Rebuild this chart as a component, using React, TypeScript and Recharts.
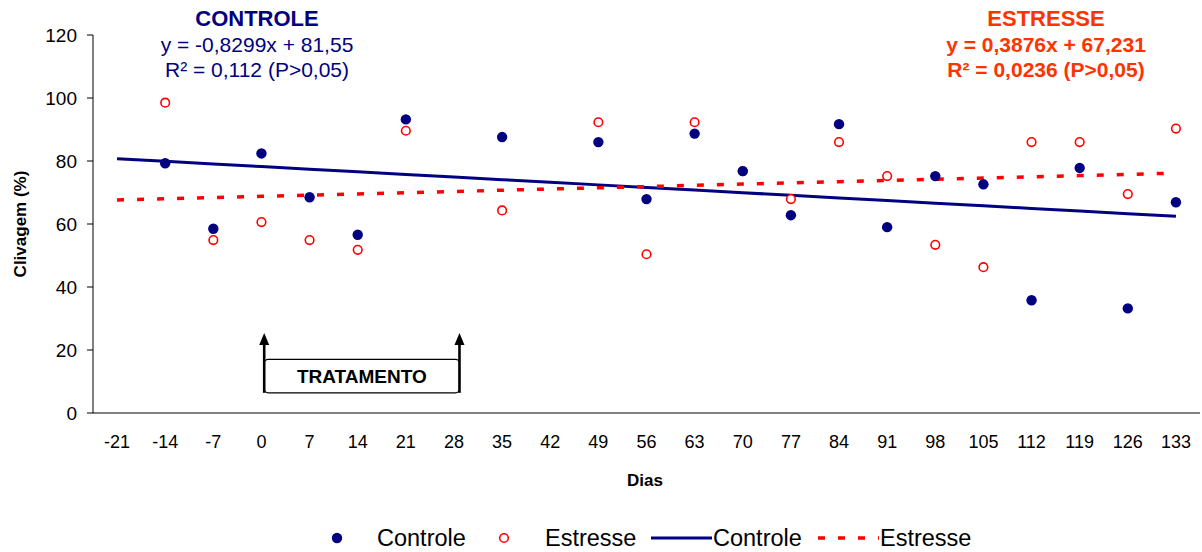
import React from 'react';
import {
  ComposedChart,
  XAxis,
  YAxis,
  Scatter,
  Line,
  ReferenceArea,
  ReferenceLine,
  Label,
} from 'recharts';

// ---------- data ----------
const dias = [-21, -14, -7, 0, 7, 14, 21, 28, 35, 42, 49, 56, 63, 70, 77, 84, 91, 98, 105, 112, 119, 126, 133];
const controle = [null, 79.3, 58.5, 82.4, 68.5, 56.6, 93.2, null, 87.6, null, 86.0, 67.9, 88.7, 76.8, 62.8, 91.7, 59.0, 75.2, 72.6, 35.8, 77.8, 33.2, 66.9];
const estresse = [null, 98.5, 54.9, 60.6, 54.9, 51.8, 89.6, null, 64.3, null, 92.3, 50.4, 92.3, 76.8, 67.9, 86.0, 75.2, 53.4, 46.3, 86.0, 86.0, 69.5, 90.3];
const tendenciaControle = [80.72, 79.89, 79.06, 78.23, 77.4, 76.57, 75.74, 74.91, 74.08, 73.25, 72.42, 71.59, 70.76, 69.93, 69.1, 68.27, 67.44, 66.61, 65.78, 64.95, 64.12, 63.29, 62.46];
const tendenciaEstresse = [67.62, 68.01, 68.39, 68.78, 69.17, 69.56, 69.94, 70.33, 70.72, 71.11, 71.5, 71.88, 72.27, 72.66, 73.05, 73.43, 73.82, 74.21, 74.6, 74.98, 75.37, 75.76, 76.15];
const yTicks = [0, 20, 40, 60, 80, 100, 120];
const tratamentoInicio = 0.4;
const tratamentoFim = 28.8;

// ---------- derived tables ----------
const rows = dias.map((d, i) => ({ dia: d, tc: tendenciaControle[i], te: tendenciaEstresse[i] }));
const ptsControle = dias.map((d, i) => ({ dia: d, v: controle[i] })).filter((p) => p.v != null);
const ptsEstresse = dias.map((d, i) => ({ dia: d, v: estresse[i] })).filter((p) => p.v != null);
const halfStep = (dias[1] - dias[0]) / 2;
const boundaries = [...dias.map((d) => d - halfStep), dias[dias.length - 1] + halfStep];
const xDomain = [boundaries[0], boundaries[boundaries.length - 1]];

const NAVY = '#000080';
const RED = '#FF0000';
const ORANGE = '#FF3300';
const FONT = '"Liberation Sans", Arial, sans-serif';

const FilledDot = (p: any) => <circle cx={p.cx} cy={p.cy} r={5.2} fill={NAVY} />;
const OpenDot = (p: any) => (
  <circle cx={p.cx} cy={p.cy} r={4.3} fill="#fff" stroke={RED} strokeWidth={1.6} />
);

const Arrow = (p: any) => {
  const x = p.x1;
  const top = Math.min(p.y1, p.y2);
  const bottom = Math.max(p.y1, p.y2);
  return (
    <g>
      <line x1={x} y1={bottom} x2={x} y2={top + 10} stroke="#000" strokeWidth={2.6} />
      <polygon points={`${x - 5},${top + 12} ${x + 5},${top + 12} ${x},${top}`} fill="#000" />
    </g>
  );
};

const Box = (p: any) => (
  <rect x={p.x} y={p.y} width={p.width} height={p.height} rx={4} ry={4} fill="#fff" stroke="#000" strokeWidth={1.2} />
);

export default function App() {
  return (
    <div style={{ position: 'absolute', left: 0, top: 0, width: 1202, height: 552, background: '#fff', fontFamily: FONT }}>
      <ComposedChart
        width={1202}
        height={552}
        data={rows}
        margin={{ top: 35, right: 2, left: 0, bottom: 108 }}
      >
        <XAxis
          xAxisId="a"
          type="number"
          dataKey="dia"
          domain={xDomain}
          ticks={boundaries}
          interval={0}
          tick={false}
          tickSize={6}
          tickLine={{ stroke: '#000', strokeWidth: 1 }}
          axisLine={{ stroke: '#808080', strokeWidth: 2 }}
          height={1}
          allowDataOverflow
        />
        <XAxis
          xAxisId="b"
          type="number"
          dataKey="dia"
          domain={xDomain}
          ticks={dias}
          interval={0}
          tickLine={false}
          axisLine={false}
          tickSize={6}
          tickMargin={15}
          tick={{ fontSize: 18, fill: '#000', fontFamily: FONT }}
          height={30}
          allowDataOverflow
        />
        <YAxis
          type="number"
          domain={[0, 120]}
          ticks={yTicks}
          interval={0}
          width={93}
          tickSize={6}
          tickMargin={10}
          tickLine={{ stroke: '#000' }}
          axisLine={{ stroke: '#000', strokeWidth: 1 }}
          tick={{ fontSize: 19, fill: '#000', fontFamily: FONT }}
        />
        <ReferenceArea
          xAxisId="b"
          x1={tratamentoInicio}
          x2={tratamentoFim}
          y1={6.4}
          y2={17}
          shape={Box}
        >
          <Label value="TRATAMENTO" position="center" fontSize={19} fontWeight="bold" fill="#000" fontFamily={FONT} />
        </ReferenceArea>
        <ReferenceLine xAxisId="b" segment={[{ x: tratamentoInicio, y: 6.4 }, { x: tratamentoInicio, y: 25.4 }]} shape={Arrow} />
        <ReferenceLine xAxisId="b" segment={[{ x: tratamentoFim, y: 6.4 }, { x: tratamentoFim, y: 25.4 }]} shape={Arrow} />
        <Line
          xAxisId="b"
          type="linear"
          dataKey="tc"
          stroke={NAVY}
          strokeWidth={3}
          dot={false}
          activeDot={false}
          isAnimationActive={false}
        />
        <Line
          xAxisId="b"
          type="linear"
          dataKey="te"
          stroke={RED}
          strokeWidth={3.5}
          strokeDasharray="7 13"
          dot={false}
          activeDot={false}
          isAnimationActive={false}
        />
        <Scatter xAxisId="b" data={ptsEstresse} dataKey="v" shape={OpenDot} isAnimationActive={false} />
        <Scatter xAxisId="b" data={ptsControle} dataKey="v" shape={FilledDot} isAnimationActive={false} />
      </ComposedChart>

      <svg width={1202} height={552} style={{ position: 'absolute', left: 0, top: 0, pointerEvents: 'none' }}>
        <g fontFamily={FONT} textAnchor="middle">
          <text x={257} y={26} fontSize={22} fontWeight="bold" fill={NAVY}>CONTROLE</text>
          <text x={257} y={52} fontSize={21} fill={NAVY}>y = -0,8299x + 81,55</text>
          <text x={257} y={77} fontSize={21} fill={NAVY}>R² = 0,112 (P&gt;0,05)</text>
          <text x={1046} y={26} fontSize={22} fontWeight="bold" fill={ORANGE}>ESTRESSE</text>
          <text x={1046} y={52} fontSize={21} fontWeight="bold" fill={ORANGE}>y = 0,3876x + 67,231</text>
          <text x={1046} y={77} fontSize={21} fontWeight="bold" fill={ORANGE}>R² = 0,0236 (P&gt;0,05)</text>
          <text x={645} y={486} fontSize={17} fontWeight="bold" fill="#000">Dias</text>
          <text x={0} y={0} fontSize={17} fontWeight="bold" fill="#000" transform="translate(26,224) rotate(-90)">Clivagem (%)</text>
        </g>
        <g fontFamily={FONT} fontSize={23.5} fill="#000">
          <circle cx={337} cy={538} r={5.2} fill={NAVY} />
          <text x={377} y={546}>Controle</text>
          <circle cx={504} cy={538} r={4.3} fill="#fff" stroke={RED} strokeWidth={1.6} />
          <text x={545} y={546}>Estresse</text>
          <line x1={651} y1={538} x2={712} y2={538} stroke={NAVY} strokeWidth={3} />
          <text x={713} y={546}>Controle</text>
          <line x1={818} y1={538} x2={879} y2={538} stroke={RED} strokeWidth={3.5} strokeDasharray="7 13" />
          <text x={880} y={546}>Estresse</text>
        </g>
      </svg>
    </div>
  );
}
